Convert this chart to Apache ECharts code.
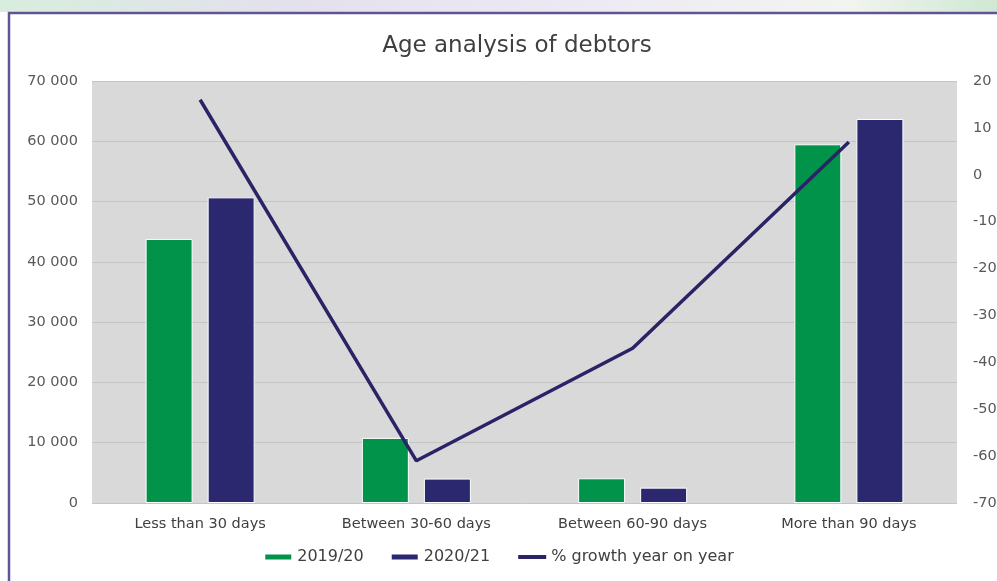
<!DOCTYPE html>
<html>
<head>
<meta charset="utf-8">
<title>Age analysis of debtors</title>
<script src="https://cdn.jsdelivr.net/npm/echarts@6/dist/echarts.min.js"></script>
<style>
  html, body { margin: 0; padding: 0; background: #fff; }
  #chart { width: 997px; height: 581px; }
</style>
</head>
<body>
<div id="chart"></div>
<script>
// categories + values
var categories = ['Less than 30 days', 'Between 30-60 days', 'Between 60-90 days', 'More than 90 days'];
var debtors1920 = [43800, 10800, 4100, 59500];
var debtors2021 = [50700, 4050, 2550, 63700];
var growthPct = [16, -61, -37, 7];

var leftTicks = { min: 0, max: 70000, step: 10000 };
var rightTicks = { min: -70, max: 20, step: 10 };

var FONT = '"DejaVu Sans", sans-serif';

var chart = echarts.init(document.getElementById('chart'));

var option = {
    backgroundColor: '#ffffff',
    textStyle: { fontFamily: FONT },
    graphic: [
        // faded banner strip at the very top
        {
            type: 'rect', silent: true, z: -10,
            shape: { x: 0, y: 0, width: 997, height: 12 },
            style: {
                fill: new echarts.graphic.LinearGradient(0, 0, 1, 0, [
                    { offset: 0, color: '#d8eedd' },
                    { offset: 0.3, color: '#e4e0ee' },
                    { offset: 0.6, color: '#eeeaf4' },
                    { offset: 0.85, color: '#f2f4f0' },
                    { offset: 1, color: '#cfe8d3' }
                ])
            }
        },
        // frame around the chart
        {
            type: 'rect', silent: true, z: -9,
            shape: { x: 9, y: 13, width: 1010, height: 600 },
            style: { fill: '#ffffff', stroke: '#5f5596', lineWidth: 2.5 }
        }
    ],
    title: {
        text: 'Age analysis of debtors',
        left: 512,
        textAlign: 'center',
        top: 30,
        textStyle: { fontFamily: FONT, fontSize: 23, fontWeight: 'normal', color: '#404040' }
    },
    legend: {
        bottom: 11,
        left: 'center',
        itemWidth: 28,
        itemHeight: 7,
        itemGap: 26,
        textStyle: { fontFamily: FONT, fontSize: 16, color: '#404040' },
        data: [
            { name: '2019/20', icon: 'rect' },
            { name: '2020/21', icon: 'rect' },
            { name: '% growth year on year', itemStyle: { opacity: 0 }, lineStyle: { width: 4 } }
        ]
    },
    grid: {
        left: 92, right: 40, top: 81, bottom: 78,
        outerBoundsMode: 'none',
        show: true,
        backgroundColor: '#d9d9d9',
        borderWidth: 0
    },
    xAxis: {
        type: 'category',
        data: categories,
        axisLine: { show: false },
        axisTick: { show: false },
        axisLabel: { fontFamily: FONT, fontSize: 14.5, color: '#404040', margin: 14 }
    },
    yAxis: [
        {
            type: 'value',
            min: leftTicks.min, max: leftTicks.max, interval: leftTicks.step,
            axisLine: { show: false },
            axisTick: { show: false },
            splitLine: { lineStyle: { color: '#c4c4c4', width: 1 } },
            axisLabel: {
                fontFamily: FONT, fontSize: 14.5, color: '#595959', margin: 14,
                formatter: function (v) {
                    return String(v).replace(/\B(?=(\d{3})+(?!\d))/g, ' ');
                }
            }
        },
        {
            type: 'value',
            min: rightTicks.min, max: rightTicks.max, interval: rightTicks.step,
            axisLine: { show: false },
            axisTick: { show: false },
            splitLine: { show: false },
            axisLabel: { fontFamily: FONT, fontSize: 14.5, color: '#595959', margin: 16 }
        }
    ],
    series: [
        {
            name: '2019/20',
            type: 'bar',
            data: debtors1920,
            barWidth: 47,
            barGap: '32%',
            itemStyle: { color: '#009349', borderColor: '#ffffff', borderWidth: 1 }
        },
        {
            name: '2020/21',
            type: 'bar',
            data: debtors2021,
            barWidth: 47,
            barGap: '32%',
            itemStyle: { color: '#2b2870', borderColor: '#ffffff', borderWidth: 1 }
        },
        {
            name: '% growth year on year',
            type: 'line',
            yAxisIndex: 1,
            data: growthPct,
            symbol: 'none',
            lineStyle: { color: '#2a2466', width: 3.5 },
            itemStyle: { color: '#2a2466' },
            z: 5
        }
    ]
};

chart.setOption(option);
</script>
</body>
</html>
